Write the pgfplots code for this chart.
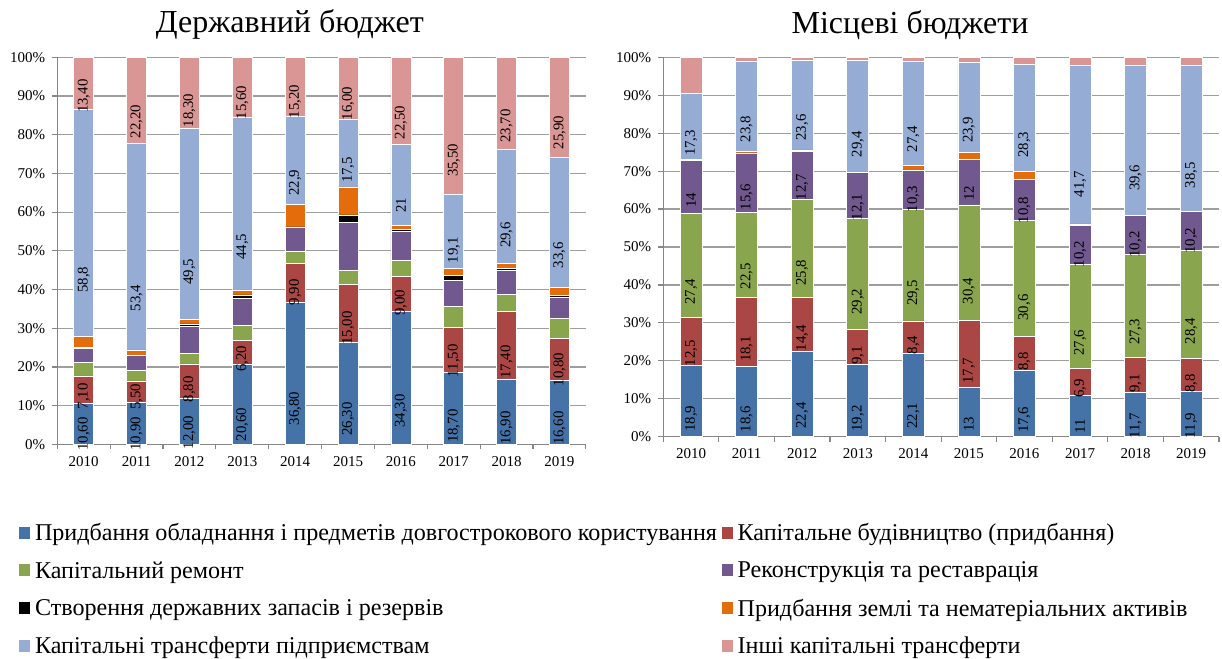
\documentclass[border=0pt]{standalone}
\usepackage{fontspec}
\setmainfont{Liberation Serif}
\usepackage{pgfplots}
\usepackage{pgfplotstable}
\pgfplotsset{compat=1.18}

\definecolor{c1}{RGB}{69,114,167}
\definecolor{c2}{RGB}{170,70,67}
\definecolor{c3}{RGB}{137,165,78}
\definecolor{c4}{RGB}{113,88,143}
\definecolor{c5}{RGB}{0,0,0}
\definecolor{c6}{RGB}{228,108,10}
\definecolor{c7}{RGB}{149,172,212}
\definecolor{c8}{RGB}{217,150,148}
\definecolor{axgray}{RGB}{134,134,134}

% State budget
\pgfplotstableread{
x a la b lb c d e f g lg h lh
0 10.6 10,60 7.1 7,10 3.4 3.6 0.4 2.7 58.8 58,8 13.4 13,40
1 10.9 10,90 5.5 5,50 2.8 3.7 0.0 1.5 53.4 53,4 22.2 22,20
2 12.0 12,00 8.8 8,80 2.7 6.9 0.7 1.1 49.5 49,5 18.3 18,30
3 20.6 20,60 6.2 6,20 4.0 6.9 0.9 1.3 44.5 44,5 15.6 15,60
4 36.8 36,80 9.9 9,90 3.2 6.1 0.2 5.7 22.9 22,9 15.2 15,20
5 26.3 26,30 15.0 15,00 3.7 12.3 2.0 7.2 17.5 17,5 16.0 16,00
6 34.3 34,30 9.0 9,00 4.2 7.5 0.5 1.0 21.0 21 22.5 22,50
7 18.7 18,70 11.5 11,50 5.5 6.6 1.3 1.8 19.1 19,1 35.5 35,50
8 16.9 16,90 17.4 17,40 4.5 6.1 0.5 1.3 29.6 29,6 23.7 23,70
9 16.6 16,60 10.8 10,80 5.2 5.5 0.3 2.1 33.6 33,6 25.9 25,90
}\stateTable

% Local budgets
\pgfplotstableread{
x a la b lb c lc d ld e f g lg h
0 18.9 18,9 12.5 12,5 27.4 27,4 14.0 14 0 0.3 17.3 17,3 9.6
1 18.6 18,6 18.1 18,1 22.5 22,5 15.6 15,6 0 0.3 23.8 23,8 1.1
2 22.4 22,4 14.4 14,4 25.8 25,8 12.7 12,7 0 0.3 23.6 23,6 0.8
3 19.2 19,2 9.1 9,1 29.2 29,2 12.1 12,1 0 0.1 29.4 29,4 0.9
4 22.1 22,1 8.4 8,4 29.5 29,5 10.3 10,3 0 1.3 27.4 27,4 1.0
5 13.0 13 17.7 17,7 30.4 30,4 12.0 12 0 1.8 23.9 23,9 1.2
6 17.6 17,6 8.8 8,8 30.6 30,6 10.8 10,8 0 2.1 28.3 28,3 1.8
7 11.0 11 6.9 6,9 27.6 27,6 10.2 10,2 0 0.4 41.7 41,7 2.2
8 11.7 11,7 9.1 9,1 27.3 27,3 10.2 10,2 0 0.0 39.6 39,6 2.1
9 11.9 11,9 8.8 8,8 28.4 28,4 10.2 10,2 0 0.0 38.5 38,5 2.2
}\localTable

\pgfplotsset{
  base/.style={
    scale only axis,
    clip=false,
    ybar stacked,
    ymin=0, ymax=100, xmin=-0.5, xmax=9.5,
    xtick={0,1,2,3,4,5,6,7,8,9},
    xticklabels={2010,2011,2012,2013,2014,2015,2016,2017,2018,2019},
    ytick={0,10,20,30,40,50,60,70,80,90,100},
    yticklabel={\pgfmathprintnumber{\tick}\%},
    /pgf/number format/assume math mode=true,
    ymajorgrids,
    grid style={axgray!80, line width=0.6pt},
    axis lines*=left,
    axis line style={axgray, line width=0.6pt},
    major x tick style={draw=none},
    minor xtick={-0.5,0.5,...,9.5},
    minor x tick style={axgray, line width=0.6pt},
    ytick style={axgray, line width=0.6pt},
    tick align=outside,
    major tick length=2.5pt, minor tick length=2.5pt,
    ticklabel style={font=\fontsize{7.5}{9}\selectfont},
    every axis plot/.append style={draw=white, line width=0.3pt},
  },
  lab/.style={
    nodes near coords,
    point meta=explicit symbolic,
    visualization depends on={\thisrow{#1} \as \val},
    every node near coord/.style={
      shift={(axis direction cs:0,-\val/4)}, rotate=90, anchor=center,
      font=\fontsize{7.4}{8}\selectfont, text=black, inner sep=0pt},
  },
}

\begin{document}
\begin{tikzpicture}
\path[use as bounding box] (0,0) rectangle (611pt,-329.5pt);

\begin{axis}[base,
  at={(28.65pt,-222.15pt)}, anchor=south west,
  width=264.3pt, height=193.5pt,
  bar width=10pt,
  legend columns=2,
  legend cell align=left,
  legend style={draw=none, fill=none, at={(-0.0857,-0.183)}, anchor=north west,
    font=\fontsize{12.05}{13}\selectfont, row sep=4.9pt,
    /tikz/every even column/.append style={column sep=0pt}},
  legend image code/.code={\fill[#1] (0pt,-2.6pt) rectangle (6pt,3.9pt);},
  legend entries={Придбання обладнання і предметів довгострокового користування,
    Капітальне будівництво (придбання),
    Капітальний ремонт,
    Реконструкція та реставрація,
    Створення державних запасів і резервів,
    Придбання землі та нематеріальних активів,
    Капітальні трансферти підприємствам,
    Інші капітальні трансферти},
]
\addplot[fill=c1, lab=a] table[x=x, y=a, meta=la] {\stateTable};
\addplot[fill=c2, lab=b] table[x=x, y=b, meta=lb] {\stateTable};
\addplot[fill=c3] table[x=x, y=c] {\stateTable};
\addplot[fill=c4] table[x=x, y=d] {\stateTable};
\addplot[fill=c5] table[x=x, y=e] {\stateTable};
\addplot[fill=c6] table[x=x, y=f] {\stateTable};
\addplot[fill=c7, lab=g] table[x=x, y=g, meta=lg] {\stateTable};
\addplot[fill=c8, lab=h] table[x=x, y=h, meta=lh] {\stateTable};
\node[anchor=base, font=\fontsize{16}{18}\selectfont] at (rel axis cs:0.44,1.063) {Державний бюджет};
\end{axis}

\begin{axis}[base,
  at={(331.65pt,-218.35pt)}, anchor=south west,
  width=277.8pt, height=189.7pt,
  bar width=11pt,
]
\addplot[fill=c1, lab=a] table[x=x, y=a, meta=la] {\localTable};
\addplot[fill=c2, lab=b] table[x=x, y=b, meta=lb] {\localTable};
\addplot[fill=c3, lab=c] table[x=x, y=c, meta=lc] {\localTable};
\addplot[fill=c4, lab=d] table[x=x, y=d, meta=ld] {\localTable};
\addplot[fill=c5] table[x=x, y=e] {\localTable};
\addplot[fill=c6] table[x=x, y=f] {\localTable};
\addplot[fill=c7, lab=g] table[x=x, y=g, meta=lg] {\localTable};
\addplot[fill=c8] table[x=x, y=h] {\localTable};
\node[anchor=base, font=\fontsize{16}{18}\selectfont] at (rel axis cs:0.444,1.064) {Місцеві бюджети};
\end{axis}
\end{tikzpicture}
\end{document}
